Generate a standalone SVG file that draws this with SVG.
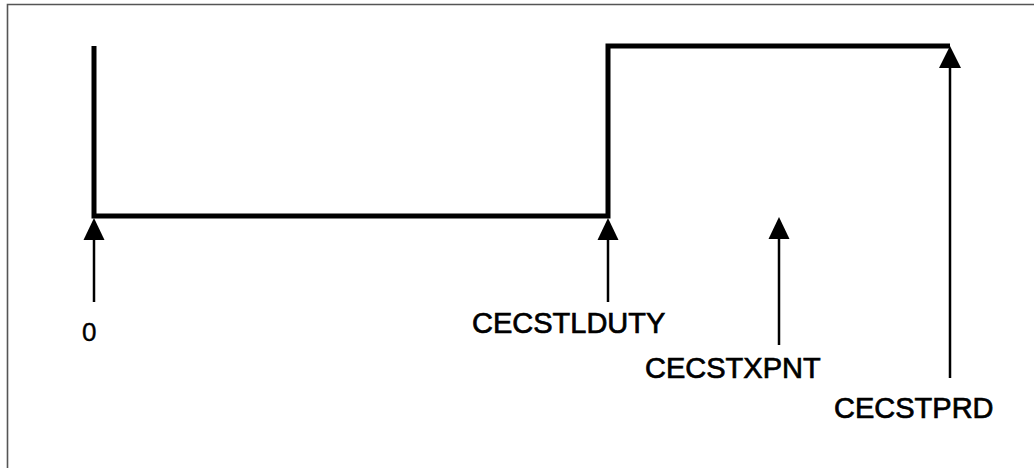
<svg xmlns="http://www.w3.org/2000/svg" width="1034" height="468" viewBox="0 0 1034 468">
<style>
.frame{fill:none;stroke:#555;stroke-width:1.6}
.wave{fill:none;stroke:#000;stroke-width:5;stroke-linejoin:miter;stroke-linecap:butt}
.shaft{stroke:#000;stroke-width:2.5}
.head{fill:#000}
.lbl{font-family:"Liberation Sans",Arial,sans-serif;font-size:29px;fill:#000;stroke:#000;stroke-width:0.7}
</style>
<rect width="1034" height="468" fill="#fff"/>
<path class="frame" d="M7.5,468 V4.5 H1034"/>
<g id="waveform">
<path class="wave" d="M94,46 V216 H608 V46 H950"/>
</g>
<g id="connectors">
<line class="shaft" x1="94" y1="236" x2="94" y2="302"/>
<polygon class="head" points="94,218 83.5,240 104.5,240"/>
<line class="shaft" x1="608" y1="236" x2="608" y2="302"/>
<polygon class="head" points="608,218 597.5,240 618.5,240"/>
<line class="shaft" x1="779" y1="236" x2="779" y2="345"/>
<polygon class="head" points="779,217 768.5,239 789.5,239"/>
<line class="shaft" x1="950" y1="64" x2="950" y2="378"/>
<polygon class="head" points="950,46 939,68 961,68"/>
</g>
<g id="label-0"><text class="lbl" x="82" y="341" style="font-size:26px;stroke-width:0.4">0</text></g>
<g id="label-CECSTLDUTY"><text class="lbl" x="472" y="333">CECSTLDUTY</text></g>
<g id="label-CECSTXPNT"><text class="lbl" x="645" y="378">CECSTXPNT</text></g>
<g id="label-CECSTPRD"><text class="lbl" x="834" y="418">CECSTPRD</text></g>
</svg>
